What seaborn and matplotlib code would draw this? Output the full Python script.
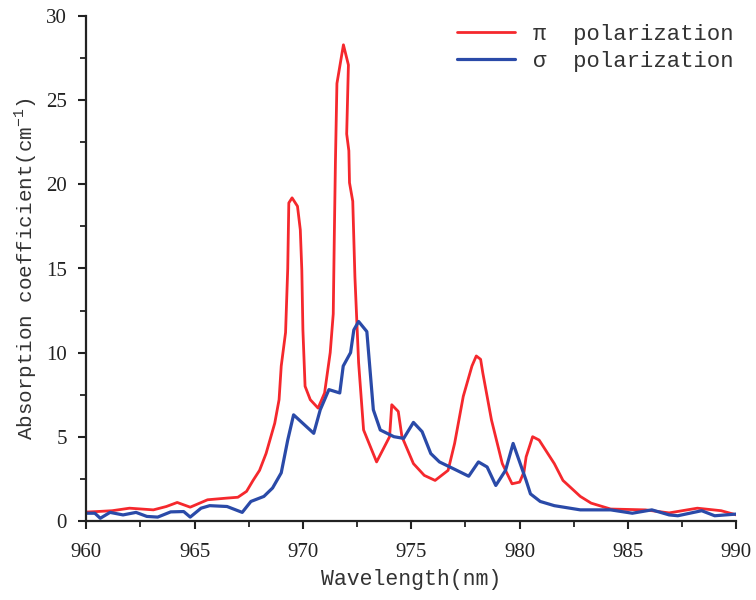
import numpy as np
import pandas as pd
import seaborn as sns
from matplotlib import pyplot as plt
from matplotlib.ticker import MultipleLocator

# pi polarization
pi_wl = [960.0, 960.5, 961.2, 962.0, 963.1, 963.7, 964.2, 964.8, 965.6, 966.5,
         967.0, 967.4, 967.7, 968.0, 968.3, 968.7, 968.9, 969.0, 969.2, 969.3,
         969.35, 969.5, 969.75, 969.88, 969.95, 970.0, 970.1, 970.34, 970.7, 971.0,
         971.26, 971.4, 971.45, 971.5, 971.57, 971.87, 972.1, 972.02, 972.12, 972.15,
         972.3, 972.4, 972.57, 972.8, 973.4, 974.0, 974.1, 974.4, 974.57, 975.1,
         975.6, 976.1, 976.7, 977.0, 977.4, 977.8, 978.0, 978.2, 978.3, 978.7,
         979.2, 979.65, 980.0, 980.2, 980.3, 980.6, 980.9, 981.6, 982.0, 982.8,
         983.3, 984.2, 985.8, 986.9, 988.2, 989.3, 990.0]
pi_abs = [0.52, 0.55, 0.6, 0.75, 0.65, 0.85, 1.09, 0.81, 1.25, 1.35,
          1.4, 1.75, 2.4, 3.0, 4.0, 5.8, 7.2, 9.2, 11.2, 15.0,
          18.9, 19.2, 18.7, 17.3, 14.9, 11.35, 8.0, 7.2, 6.7, 7.6,
          10.0, 12.3, 17.0, 21.3, 26.0, 28.3, 27.1, 23.0, 22.0, 20.1,
          19.0, 14.5, 9.4, 5.4, 3.5, 5.0, 6.9, 6.5, 5.0, 3.4,
          2.7, 2.4, 3.0, 4.6, 7.4, 9.2, 9.8, 9.6, 8.8, 6.0,
          3.4, 2.2, 2.3, 2.9, 3.8, 5.0, 4.8, 3.4, 2.4, 1.45,
          1.05, 0.7, 0.65, 0.47, 0.75, 0.6, 0.35]

# sigma polarization
sigma_wl = [960.0, 960.4, 960.65, 961.1, 961.7, 962.3, 962.8, 963.3, 963.9, 964.5,
            964.8, 965.3, 965.7, 966.5, 967.2, 967.6, 968.2, 968.6, 969.0, 969.3,
            969.57, 970.5, 970.8, 971.2, 971.7, 971.86, 972.2, 972.35, 972.57, 972.95,
            973.25, 973.57, 974.2, 974.65, 975.1, 975.5, 975.9, 976.3, 977.1, 977.65,
            978.1, 978.5, 978.9, 979.35, 979.7, 980.0, 980.3, 980.5, 980.95, 981.6,
            982.8, 984.2, 985.2, 986.1, 986.9, 987.3, 988.4, 989.0, 990.0]
sigma_abs = [0.45, 0.45, 0.15, 0.5, 0.35, 0.5, 0.26, 0.22, 0.53, 0.55,
             0.22, 0.75, 0.9, 0.85, 0.5, 1.15, 1.45, 1.95, 2.85, 4.8,
             6.3, 5.2, 6.6, 7.8, 7.6, 9.2, 10.0, 11.35, 11.85, 11.25,
             6.6, 5.4, 5.0, 4.9, 5.85, 5.3, 4.0, 3.5, 3.0, 2.65,
             3.5, 3.2, 2.1, 3.0, 4.6, 3.5, 2.4, 1.6, 1.15, 0.9,
             0.65, 0.65, 0.45, 0.65, 0.35, 0.3, 0.6, 0.3, 0.4]

LABEL_FONT = "Liberation Mono"
TICK_FONT = "Liberation Serif"

sns.set_style("ticks")
plt.rcParams["font.family"] = [TICK_FONT, "DejaVu Serif"]
plt.rcParams["mathtext.fontset"] = "custom"
plt.rcParams["mathtext.rm"] = LABEL_FONT

fig = plt.figure(figsize=(7.56, 6.0), dpi=100)
ax = fig.add_axes([0.114, 0.132, 0.86, 0.841])

sns.lineplot(x=pi_wl, y=pi_abs, ax=ax, color="#f5282d", linewidth=2.0,
             sort=False, estimator=None, label="\u03c0  polarization")
sns.lineplot(x=sigma_wl, y=sigma_abs, ax=ax, color="#2a4aa8", linewidth=2.3,
             sort=False, estimator=None, label="\u03c3  polarization")

ax.set_xlim(960, 990)
ax.set_ylim(0, 30)
ax.xaxis.set_major_locator(MultipleLocator(5))
ax.xaxis.set_minor_locator(MultipleLocator(2.5))
ax.yaxis.set_major_locator(MultipleLocator(5))
ax.yaxis.set_minor_locator(MultipleLocator(2.5))

ax.tick_params(axis="both", which="major", direction="out", length=6, width=1.5,
               labelsize=15, colors="#222222")
ax.tick_params(axis="x", which="major", pad=10)
ax.tick_params(axis="y", which="major", pad=8)
ax.tick_params(axis="both", which="minor", direction="out", length=4, width=1.3,
               colors="#222222")

ax.set_xlabel("Wavelength(nm)", fontsize=15.5, family=LABEL_FONT, color="#333333", labelpad=5)
ax.set_ylabel("Absorption coefficient(cm$^{-1}$)", fontsize=15, family=LABEL_FONT,
              color="#333333", labelpad=4)

sns.despine(ax=ax)
for spine in ["left", "bottom"]:
    ax.spines[spine].set_linewidth(1.6)
    ax.spines[spine].set_color("#222222")

legend = ax.legend(loc="upper right", frameon=False, handlelength=2.6,
                   handletextpad=0.8, labelspacing=0.3, borderaxespad=0.0,
                   bbox_to_anchor=(1.009, 1.003), prop={"family": LABEL_FONT, "size": 16})
for text in legend.get_texts():
    text.set_color("#333333")

fig.savefig("out.png", dpi=100)
